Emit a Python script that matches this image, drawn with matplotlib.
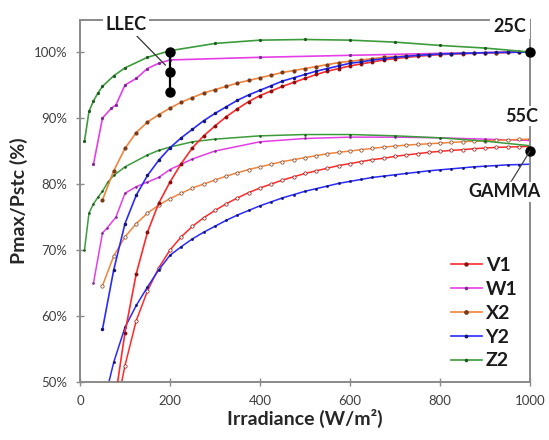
import numpy as np
import matplotlib
matplotlib.use("Agg")
import matplotlib.pyplot as plt
from matplotlib.ticker import FuncFormatter

plt.rcParams['font.family'] = ['Lato', 'DejaVu Sans']

# --- Data ---
# dense irradiance grid used by the dotted series (W/m2)
irr_grid = list(range(50, 1001, 25))

# 25C curves
v1_25_irr = irr_grid[1:]
v1_25 = [46, 57.5, 66.4, 72.7, 77.1, 80.3, 83.1, 85.5, 87.3, 88.8, 90.2, 91.4, 92.5,
         93.4, 94.1, 94.8, 95.4, 96.0, 96.6, 97.1, 97.5, 97.9, 98.2, 98.5, 98.8, 99.0,
         99.2, 99.35, 99.5, 99.6, 99.7, 99.75, 99.8, 99.85, 99.9, 99.95, 100, 100]
y2_25_irr = irr_grid
y2_25 = [58, 67, 74, 78.3, 81.3, 83.6, 85.5, 87.0, 88.3, 89.6, 90.7, 91.7, 92.7, 93.5,
         94.2, 94.9, 95.6, 96.1, 96.6, 97.1, 97.5, 97.9, 98.3, 98.5, 98.8, 99.0, 99.2,
         99.35, 99.5, 99.6, 99.7, 99.75, 99.8, 99.85, 99.9, 99.93, 99.96, 99.98, 100]
x2_25_irr = irr_grid
x2_25 = [77.6, 82.0, 85.4, 87.8, 89.4, 90.5, 91.5, 92.4, 93.1, 93.8, 94.3, 94.8, 95.3,
         95.7, 96.1, 96.5, 96.9, 97.2, 97.5, 97.8, 98.1, 98.4, 98.6, 98.8, 99.0, 99.2,
         99.3, 99.4, 99.5, 99.6, 99.7, 99.75, 99.8, 99.85, 99.9, 99.92, 99.95, 99.98, 100]
w1_25_irr = [30, 50, 70, 80, 100, 125, 150, 175, 200, 400, 600, 800, 1000]
w1_25 = [83, 90, 91.5, 92, 95, 96, 97.5, 98.3, 98.8, 99.2, 99.5, 99.8, 100]
z2_25_irr = [10, 20, 30, 40, 50, 75, 100, 150, 200, 300, 400, 500, 600, 700, 800, 900, 1000]
z2_25 = [86.5, 91, 92.6, 93.8, 94.8, 96.4, 97.6, 99.2, 100.2, 101.3, 101.8, 101.9,
         101.8, 101.5, 101.0, 100.6, 100]

# 55C curves
v1_55_irr = irr_grid[1:]
v1_55 = [44, 52.5, 59.3, 63.8, 67.3, 70.0, 72.0, 73.6, 74.9, 76.0, 77.0, 77.9, 78.7,
         79.4, 80.0, 80.6, 81.1, 81.6, 82.0, 82.4, 82.8, 83.1, 83.4, 83.7, 83.9, 84.2,
         84.4, 84.6, 84.8, 84.95, 85.1, 85.2, 85.35, 85.45, 85.55, 85.6, 85.65, 85.7]
y2_55_irr = irr_grid
y2_55 = [46, 53, 58.3, 61.6, 64.4, 67.0, 69.2, 70.5, 71.7, 72.7, 73.6, 74.5, 75.3, 76.0,
         76.7, 77.3, 77.9, 78.4, 78.9, 79.3, 79.7, 80.1, 80.4, 80.7, 81.0, 81.2, 81.4,
         81.6, 81.8, 82.0, 82.15, 82.3, 82.45, 82.6, 82.7, 82.8, 82.9, 82.95, 83.0]
x2_55_irr = irr_grid
x2_55 = [64.6, 69.1, 72.0, 74.0, 75.6, 76.8, 77.8, 78.6, 79.4, 80.0, 80.6, 81.2, 81.7,
         82.2, 82.6, 83.0, 83.4, 83.7, 84.0, 84.3, 84.6, 84.8, 85.0, 85.2, 85.4, 85.6,
         85.75, 85.9, 86.0, 86.1, 86.2, 86.3, 86.4, 86.5, 86.55, 86.6, 86.7, 86.75, 86.8]
w1_55_irr = [30, 50, 60, 80, 100, 125, 150, 175, 200, 250, 300, 400, 500, 600, 700, 800, 900, 1000]
w1_55 = [65, 72.6, 73.3, 75, 78.6, 79.6, 80.3, 81, 82.2, 83.8, 85, 86.4, 86.9, 87.1,
         87.1, 87.0, 86.8, 86.6]
z2_55_irr = [10, 20, 30, 40, 50, 62, 75, 100, 150, 175, 200, 250, 300, 400, 500, 600,
             700, 800, 900, 1000]
z2_55 = [70, 75.6, 77, 78, 78.9, 80.3, 81.3, 82.6, 84.4, 85.1, 85.6, 86.4, 86.8, 87.3,
         87.5, 87.5, 87.3, 87.0, 86.5, 85.8]

# reference markers
llec_irr = [200, 200, 200]
llec_val = [100, 97, 94]
ref_irr = [1000, 1000]
ref_val = [100, 85]

labels = ['V1', 'W1', 'X2', 'Y2', 'Z2']
line_cols = ['#ff2a2a', '#e63ee6', '#f0843c', '#2a2aff', '#3c9c3c']
mark_cols = ['#8b1010', '#7a2a90', '#7a3a18', '#151575', '#1f5a1f']
mark_size = [1.8, 1.3, 2.0, 1.5, 1.3]

fig = plt.figure(figsize=(5.49, 4.40), dpi=100)
ax = fig.add_axes([0.1457, 0.1318, 0.8197, 0.8227])

series_25 = [(v1_25_irr, v1_25), (w1_25_irr, w1_25), (x2_25_irr, x2_25),
             (y2_25_irr, y2_25), (z2_25_irr, z2_25)]
series_55 = [(v1_55_irr, v1_55), (w1_55_irr, w1_55), (x2_55_irr, x2_55),
             (y2_55_irr, y2_55), (z2_55_irr, z2_55)]

for i, (xs, ys) in enumerate(series_55):
    hollow = labels[i] in ('V1', 'X2')
    ax.plot(xs, ys, color=line_cols[i], lw=1.1, marker='o',
            ms=2.4 if hollow else mark_size[i],
            mfc='white' if hollow else mark_cols[i],
            mec=mark_cols[i], mew=0.5, zorder=2)

for i, (xs, ys) in enumerate(series_25):
    ax.plot(xs, ys, color=line_cols[i], lw=1.2, marker='o', ms=mark_size[i],
            mfc=mark_cols[i], mec=mark_cols[i], label=labels[i], zorder=3)

# LLEC reference
ax.plot(llec_irr, llec_val, color='black', lw=1.6, marker='o', ms=6.5, zorder=5)
ax.plot(ref_irr, ref_val, ls='none', color='black', marker='o', ms=6.5, zorder=5,
        clip_on=False)

ax.annotate('LLEC', xy=(190, 98), xytext=(102, 104.1), ha='center', va='center',
            fontsize=13, fontweight='bold', color='#1a1a1a',
            bbox=dict(boxstyle='square,pad=0.15', fc='white', ec='none'),
            arrowprops=dict(arrowstyle='-', color='#333333', lw=0.9,
                            shrinkA=0, shrinkB=0),
            annotation_clip=False, zorder=6)
ax.text(956, 103.8, '25C', ha='center', va='center', fontsize=13,
        fontweight='bold', color='#1a1a1a', zorder=6, clip_on=False,
        bbox=dict(boxstyle='square,pad=0.2', fc='white', ec='none'))
ax.text(982, 90.3, '55C', ha='center', va='center', fontsize=13,
        fontweight='bold', color='#1a1a1a', zorder=6, clip_on=False,
        bbox=dict(boxstyle='square,pad=0.1', fc='white', ec='none'))
ax.annotate('GAMMA', xy=(1000, 85), xytext=(944, 78.8), ha='center', va='center',
            fontsize=13, fontweight='bold', color='#1a1a1a',
            bbox=dict(boxstyle='square,pad=0.1', fc='white', ec='none'),
            arrowprops=dict(arrowstyle='-', color='#444444', lw=0.9,
                            shrinkA=0, shrinkB=0),
            annotation_clip=False, zorder=6)

ax.set_xlim(0, 1000)
ax.set_ylim(50, 104.85)
ax.set_xticks(range(0, 1001, 200))
ax.set_yticks(range(50, 101, 10))
ax.yaxis.set_major_formatter(FuncFormatter(lambda v, p: f'{v:.0f}%'))

for s in ax.spines.values():
    s.set_color('#8a8a8a')
    s.set_linewidth(1.4)
ax.tick_params(direction='inout', length=6, width=1, color='#8a8a8a',
               labelsize=9.5, labelcolor='#404040', pad=6)

ax.set_xlabel('Irradiance (W/m²)', fontsize=14, fontweight='bold',
              color='#262626', labelpad=2)
ax.set_ylabel('Pmax/Pstc (%)', fontsize=14, fontweight='bold',
              color='#262626', labelpad=4)

leg = ax.legend(loc='lower right', bbox_to_anchor=(1.0, 0.0), frameon=False,
                handlelength=1.6, handletextpad=0.2, labelspacing=0.35,
                borderaxespad=0.25, numpoints=1, markerscale=1.2,
                prop={'weight': 'bold', 'size': 14})
for t in leg.get_texts():
    t.set_color('#1a1a1a')

fig.savefig('out.png', dpi=100)
